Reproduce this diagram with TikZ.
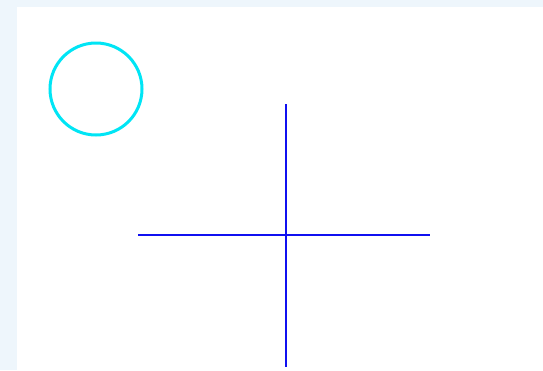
\documentclass[tikz,border=0pt]{standalone}
\definecolor{bgblue}{HTML}{EEF6FC}
\definecolor{circcyan}{HTML}{00E5F5}
\definecolor{crossblue}{HTML}{1010F0}
\tikzset{
  circ/.style={draw=circcyan, line width=3pt},
  crossline/.style={draw=crossblue, line width=2pt}
}
\begin{document}
\begin{tikzpicture}[x=1pt,y=-1pt]
\fill[bgblue] (0,0) rectangle (543,370);
\useasboundingbox (0,0) rectangle (543,370);
\fill[white] (17,7) rectangle (543,370);
\draw[circ] (96,89) circle[radius=46];
\coordinate (hl) at (138,235);
\coordinate (hr) at (430,235);
\coordinate (vt) at (286,104);
\coordinate (vb) at (286,367);
\draw[crossline] (hl) -- (hr);
\draw[crossline] (vt) -- (vb);
\end{tikzpicture}
\end{document}
